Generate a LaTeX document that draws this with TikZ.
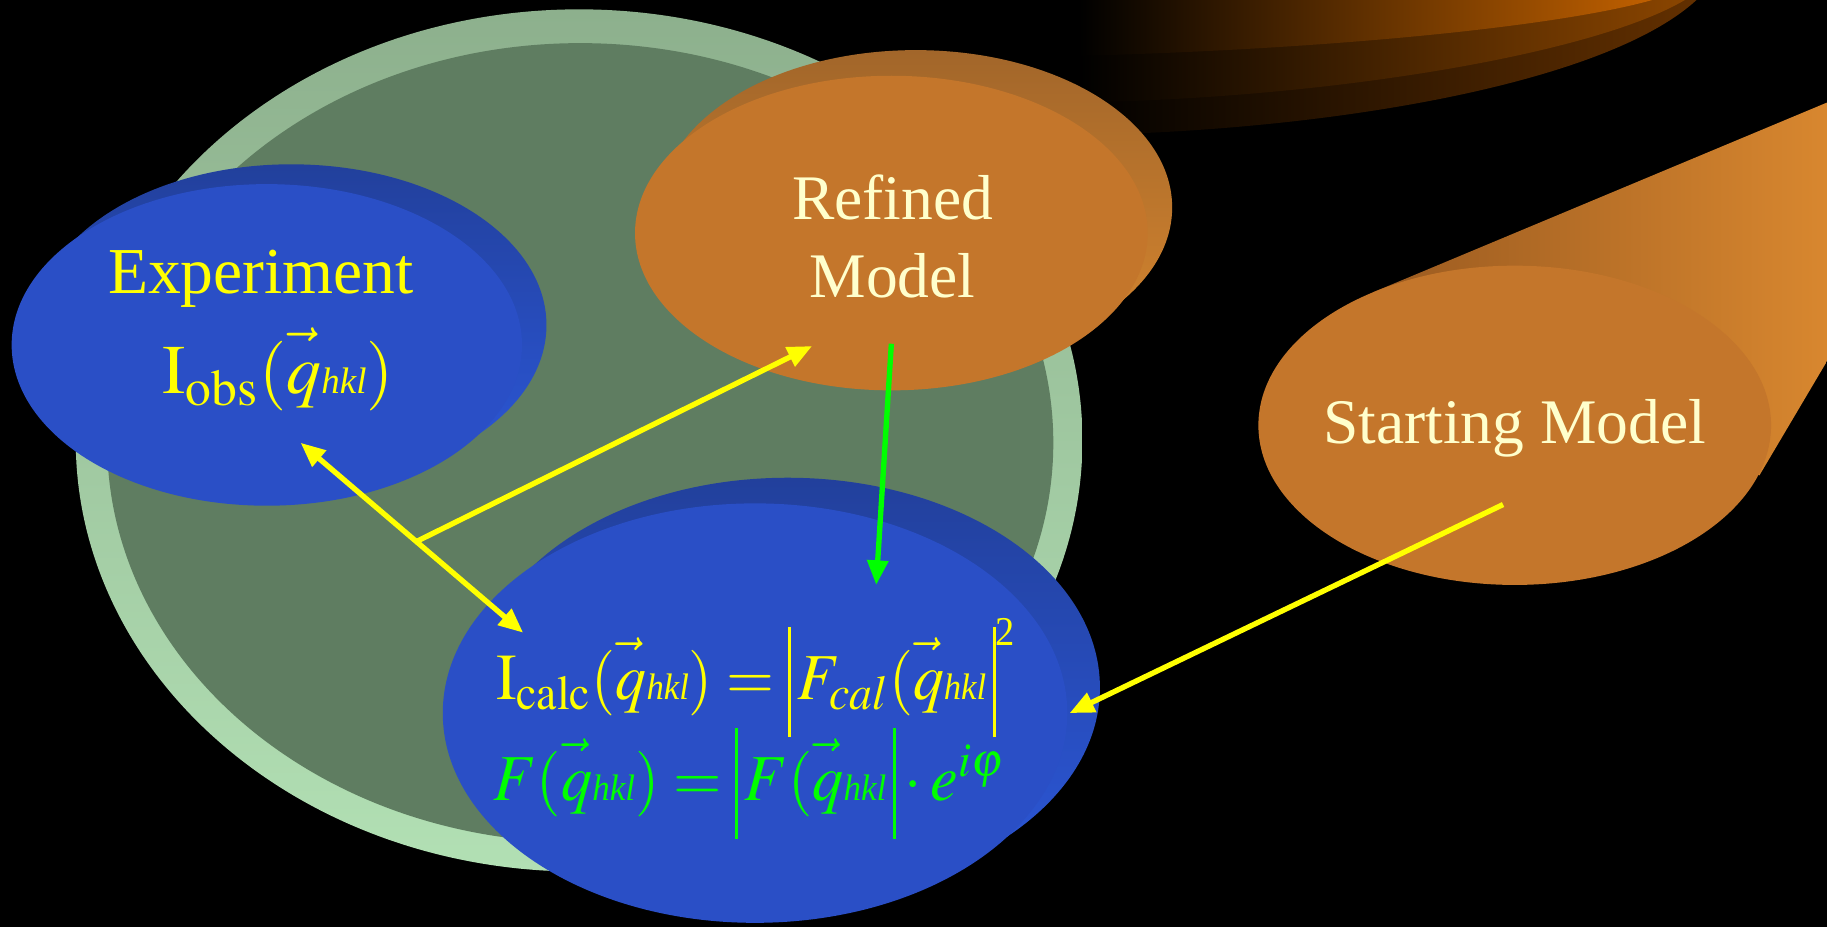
\documentclass[tikz,border=0pt]{standalone}
\usepackage{graphicx}
\usepackage{mathptmx}
\usepackage[no-math]{fontspec}
\setmainfont{Liberation Serif}
\usetikzlibrary{arrows.meta,calc}

\definecolor{rimtop}{HTML}{8DB08D}
\definecolor{rimbottom}{HTML}{B2E0B4}
\definecolor{facegreen}{HTML}{5F7D61}
\definecolor{discblue}{HTML}{2A4FC6}
\definecolor{sideblue}{HTML}{2C58DA}
\definecolor{topblue}{HTML}{22409C}
\definecolor{discorange}{HTML}{C4762B}
\definecolor{sideorange}{HTML}{D8872F}
\definecolor{toporange}{HTML}{A2662A}
\definecolor{cyldark}{HTML}{9A5A20}
\definecolor{stackA}{HTML}{C06000}
\definecolor{stackB}{HTML}{8A4500}
\definecolor{stackC}{HTML}{633000}
\definecolor{txtcream}{HTML}{FFFFCC}
\definecolor{arryellow}{HTML}{FFFF00}
\definecolor{arrgreen}{HTML}{00FF00}

% vector q with its small hkl index
\newcommand{\vq}{\vec{\vphantom{\mathrm{I}}q}\mbox{\fontsize{9}{9}\selectfont\itshape hkl}}
% tall bar of the modulus
\newcommand{\absbar}{\rule[-9.3pt]{0.7pt}{26.9pt}}
\newcommand{\smallsup}[1]{\mbox{\fontsize{10}{10}\selectfont #1}}

\tikzset{
  lbl/.style={text=txtcream, font=\fontsize{15.5}{19}\selectfont, align=center},
  eqn/.style={font=\fontsize{16}{20}\selectfont, inner sep=0pt, anchor=base west},
  link/.style={arryellow, line width=1.3pt, -{Triangle[length=6pt,width=5pt]}},
  duplex/.style={link, {Triangle[length=6pt,width=5pt]}-{Triangle[length=6pt,width=5pt]}}
}

\begin{document}
\begin{tikzpicture}[x=0.01cm, y=-0.01cm]
    % Background
    \fill[black] (0,0) rectangle (1568,796);
    \useasboundingbox (0,0) rectangle (1568,796);

    % Dark orange stack, top right
    \shade[left color=black, right color=stackC] (925,0) -- (925,116) .. controls (1150,112) and (1380,70) .. (1456,0) -- cycle;
    \shade[left color=black, right color=stackB] (925,0) -- (925,88) .. controls (1150,84) and (1370,45) .. (1446,0) -- cycle;
    \shade[left color=black, right color=stackA] (925,0) -- (925,48) .. controls (1150,42) and (1340,22) .. (1418,0) -- cycle;

    % Big green disc
    \shade[top color=rimtop, bottom color=rimbottom] (497,378) ellipse [x radius=432, y radius=370];
    \fill[facegreen] (498,380) ellipse [x radius=406, y radius=343];

    % Experiment disc
    \shade[top color=topblue, bottom color=sideblue] (250,279) ellipse [x radius=219, y radius=138];
    \fill[discblue] (229,296) ellipse [x radius=219, y radius=138];

    % Refined model disc
    \shade[top color=toporange, bottom color=sideorange] (786,178) ellipse [x radius=220, y radius=135];
    \fill[discorange] (765,200) ellipse [x radius=220, y radius=135];

    % Calculation disc
    \shade[top color=topblue, bottom color=sideblue] (676,590) ellipse [x radius=268, y radius=180];
    \fill[discblue] (648,612) ellipse [x radius=268, y radius=180];

    % Starting model cylinder
    \shade[left color=cyldark, right color=sideorange] (1178,251) -- (1568,88) -- (1568,310) -- (1510,408) -- cycle;
    \fill[discorange] (1300,365) ellipse [x radius=220, y radius=137];

    % Texts
    \node[text=arryellow, font=\fontsize{16}{19}\selectfont, anchor=base] (expTitle) at (224,252) {Experiment};
    \node[text=arryellow, font=\fontsize{17}{20}\selectfont, anchor=base west, inner sep=0pt] (expObs) at (139,338) {$\mathrm{I}_{\mathrm{obs}}(\vq)$};
    \node[lbl] (refTxt) at (766,203) {Refined\\Model};
    \node[lbl] (startTxt) at (1300,368) {Starting Model};
    \node[eqn, text=arryellow] (calcEq) at (425,600) {\scalebox{0.94}[1]{$\mathrm{I}_{\mathrm{calc}}(\vq) = \absbar\mkern2mu F_{cal}(\vq\mkern2mu\absbar^{\smallsup{2}}$}};
    \node[eqn, text=arrgreen] (phaseEq) at (423,687) {\scalebox{0.95}[1]{$F(\vq) = \absbar\mkern2mu F(\vq\mkern2mu\absbar\cdot e^{i\varphi}$}};

    % Connector ends
    \coordinate (obsTip) at (258,380);
    \coordinate (calcTip) at (449,543);
    \coordinate (refTip) at (697,297);
    \coordinate (refOut) at (765,295);
    \coordinate (calcTop) at (752,502);
    \coordinate (startOut) at (1290,433);
    \coordinate (calcRight) at (918,612);

    % Arrows
    \draw[duplex] (obsTip) -- (calcTip);
    \draw[link] ($(obsTip)!0.52!(calcTip)$) -- (refTip);
    \draw[link, arrgreen] (refOut) -- (calcTop);
    \draw[link] (startOut) -- (calcRight);
\end{tikzpicture}
\end{document}
